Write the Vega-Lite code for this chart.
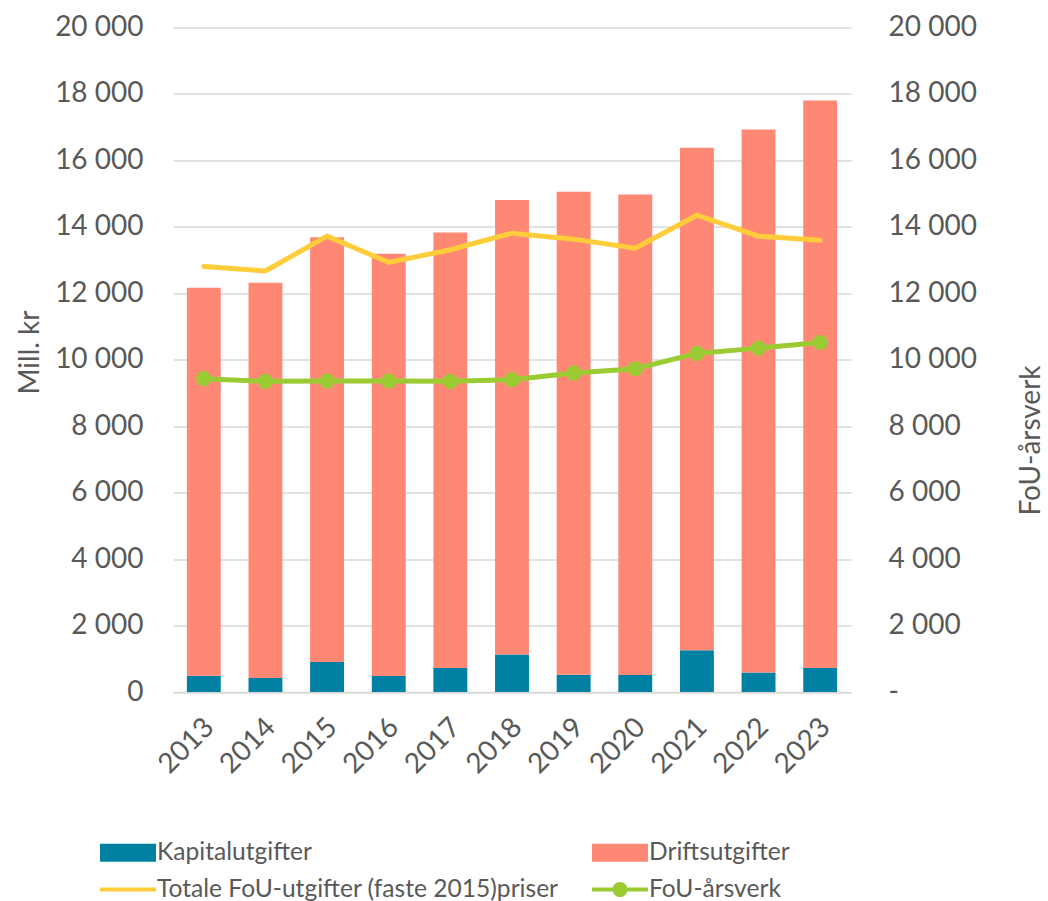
{
  "$schema": "https://vega.github.io/schema/vega-lite/v6.json",
  "width": 678,
  "height": 664.5,
  "autosize": {"type": "none"},
  "padding": {"left": 173, "top": 27.5, "right": 197, "bottom": 209},
  "background": "white",
  "config": {
    "font": "Lato",
    "view": {"stroke": null},
    "axis": {
      "labelColor": "#595959",
      "titleColor": "#595959",
      "labelFont": "Lato",
      "titleFont": "Lato",
      "labelFontSize": 28,
      "titleFontSize": 28,
      "titleFontWeight": "normal",
      "ticks": false,
      "domain": false,
      "gridColor": "#d9d9d9",
      "gridWidth": 1.5
    },
    "legend": {
      "orient": "none",
      "direction": "horizontal",
      "legendX": -59,
      "legendY": 811,
      "columns": 2,
      "symbolSize": 784,
      "labelFont": "Lato",
      "labelFontSize": 24.6,
      "labelColor": "#595959",
      "labelOffset": 15,
      "columnPadding": 33,
      "rowPadding": 11,
      "labelLimit": 600
    }
  },
  "data": {
    "values": [
      {"year": "2013", "Kapitalutgifter": 490, "Driftsutgifter": 11680, "total": 12810, "arsverk": 9430},
      {"year": "2014", "Kapitalutgifter": 420, "Driftsutgifter": 11900, "total": 12670, "arsverk": 9350},
      {"year": "2015", "Kapitalutgifter": 900, "Driftsutgifter": 12790, "total": 13720, "arsverk": 9360},
      {"year": "2016", "Kapitalutgifter": 480, "Driftsutgifter": 12710, "total": 12930, "arsverk": 9360},
      {"year": "2017", "Kapitalutgifter": 720, "Driftsutgifter": 13110, "total": 13310, "arsverk": 9350},
      {"year": "2018", "Kapitalutgifter": 1130, "Driftsutgifter": 13680, "total": 13810, "arsverk": 9400},
      {"year": "2019", "Kapitalutgifter": 520, "Driftsutgifter": 14540, "total": 13630, "arsverk": 9600},
      {"year": "2020", "Kapitalutgifter": 510, "Driftsutgifter": 14460, "total": 13360, "arsverk": 9730},
      {"year": "2021", "Kapitalutgifter": 1260, "Driftsutgifter": 15120, "total": 14350, "arsverk": 10190},
      {"year": "2022", "Kapitalutgifter": 590, "Driftsutgifter": 16340, "total": 13720, "arsverk": 10350},
      {"year": "2023", "Kapitalutgifter": 720, "Driftsutgifter": 17080, "total": 13600, "arsverk": 10520}
    ]
  },
  "encoding": {
    "x": {
      "field": "year",
      "type": "ordinal",
      "scale": {"paddingInner": 0.45, "paddingOuter": 0.225},
      "axis": {
        "title": null,
        "labelAngle": -45,
        "labelPadding": 21,
        "labelOffset": -4,
        "domain": true,
        "domainColor": "#d9d9d9",
        "domainWidth": 1.5
      }
    }
  },
  "layer": [
    {
      "transform": [{"fold": ["Kapitalutgifter", "Driftsutgifter"], "as": ["serie", "verdi"]}],
      "mark": {"type": "bar"},
      "encoding": {
        "y": {
          "field": "verdi",
          "type": "quantitative",
          "stack": "zero",
          "scale": {"domain": [0, 20000]},
          "axis": {
            "title": "Mill. kr",
            "values": [0, 2000, 4000, 6000, 8000, 10000, 12000, 14000, 16000, 18000, 20000],
            "labelExpr": "replace(format(datum.value, ','), ',', ' ')",
            "labelPadding": 30,
            "grid": true,
            "titleAngle": 270,
            "titleX": -143,
            "titleY": 324.5,
            "titleBaseline": "middle",
            "titleAlign": "center"
          }
        },
        "color": {
          "field": "serie",
          "type": "nominal",
          "scale": {
            "domain": ["Kapitalutgifter", "Driftsutgifter", "Totale FoU-utgifter (faste 2015)priser", "FoU-årsverk"],
            "range": ["#0080A2", "#FF8875", "#FFCD3A", "#9BCB32"]
          },
          "legend": {
            "title": null,
            "encode": {
              "symbols": {
                "update": {
                  "shape": {"signal": "datum.value === 'FoU-årsverk' ? 'M-2,-0.14L2,-0.14L2,0.14L-2,0.14Z M0.54,0A0.54,0.54 0 1 1 -0.54,0A0.54,0.54 0 1 1 0.54,0Z' : (datum.value === 'Totale FoU-utgifter (faste 2015)priser' ? 'M-2,-0.14L2,-0.14L2,0.14L-2,0.14Z' : 'M-2,-0.64L2,-0.64L2,0.64L-2,0.64Z')"},
                  "fill": {"signal": "scale('color', datum.value)"},
                  "stroke": {"value": "transparent"},
                  "strokeWidth": {"value": 0},
                  "opacity": {"value": 1}
                }
              }
            }
          }
        },
        "order": {"field": "serie", "sort": "descending"}
      }
    },
    {
      "mark": {"type": "line", "strokeWidth": 5, "strokeCap": "round"},
      "encoding": {
        "y": {"field": "total", "type": "quantitative", "scale": {"domain": [0, 20000]}, "axis": null},
        "color": {"datum": "Totale FoU-utgifter (faste 2015)priser", "legend": null}
      }
    },
    {
      "mark": {"type": "line", "strokeWidth": 5, "strokeCap": "round", "point": {"filled": true, "size": 230}},
      "encoding": {
        "y": {
          "field": "arsverk",
          "type": "quantitative",
          "scale": {"domain": [0, 20000]},
          "axis": {
            "orient": "right",
            "title": "FoU-årsverk",
            "values": [0, 2000, 4000, 6000, 8000, 10000, 12000, 14000, 16000, 18000, 20000],
            "labelExpr": "datum.value === 0 ? '-' : replace(format(datum.value, ','), ',', ' ')",
            "labelPadding": 37,
            "grid": false,
            "titleAngle": 270,
            "titleX": 180,
            "titleY": 412.5,
            "titleBaseline": "middle",
            "titleAlign": "center"
          }
        },
        "color": {"datum": "FoU-årsverk", "legend": null}
      }
    }
  ],
  "resolve": {"scale": {"y": "independent"}}
}
